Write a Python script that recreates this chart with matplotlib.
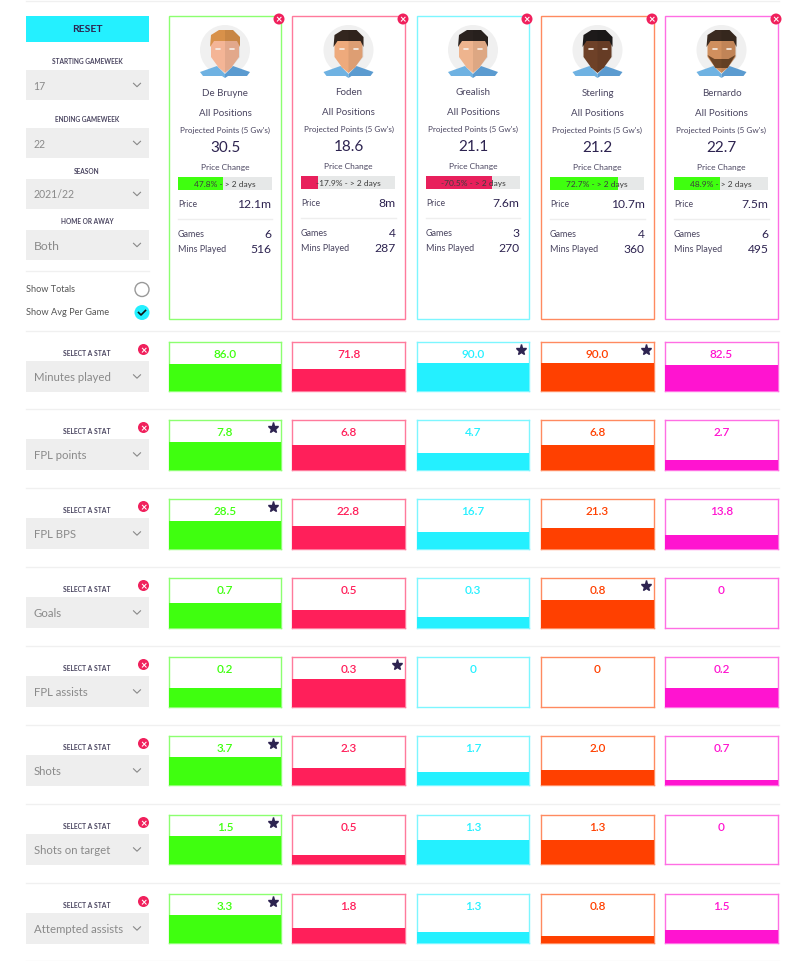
import matplotlib
matplotlib.use('Agg')
import matplotlib.pyplot as plt
from matplotlib.patches import Rectangle, Circle, Polygon

plt.rcParams['font.family'] = ['Lato', 'DejaVu Sans']

# player cards
players = ['De Bruyne', 'Foden', 'Grealish', 'Sterling', 'Bernardo']
projected = ['30.5', '18.6', '21.1', '21.2', '22.7']
price_change = [47.8, -17.9, -70.5, 72.7, 48.9]
prices = ['12.1m', '8m', '7.6m', '10.7m', '7.5m']
games = [6, 4, 3, 4, 6]
mins_played = [516, 287, 270, 360, 495]

# stat rows
stat_names = ['Minutes played', 'FPL points', 'FPL BPS', 'Goals', 'FPL assists',
              'Shots', 'Shots on target', 'Attempted assists']
minutes = [86.0, 71.8, 90.0, 90.0, 82.5]
fpl_points = [7.8, 6.8, 4.7, 6.8, 2.7]
fpl_bps = [28.5, 22.8, 16.7, 21.3, 13.8]
goals = [0.7, 0.5, 0.3, 0.8, 0]
fpl_assists = [0.2, 0.3, 0, 0, 0.2]
shots = [3.7, 2.3, 1.7, 2.0, 0.7]
shots_on_target = [1.5, 0.5, 1.3, 1.3, 0]
attempted_assists = [3.3, 1.8, 1.3, 0.8, 1.5]
stat_rows = [minutes, fpl_points, fpl_bps, goals, fpl_assists, shots,
             shots_on_target, attempted_assists]
stat_labels = [['86.0', '71.8', '90.0', '90.0', '82.5'],
               ['7.8', '6.8', '4.7', '6.8', '2.7'],
               ['28.5', '22.8', '16.7', '21.3', '13.8'],
               ['0.7', '0.5', '0.3', '0.8', '0'],
               ['0.2', '0.3', '0', '0', '0.2'],
               ['3.7', '2.3', '1.7', '2.0', '0.7'],
               ['1.5', '0.5', '1.3', '1.3', '0'],
               ['3.3', '1.8', '1.3', '0.8', '1.5']]

colors = ['#3fff0f', '#ff1f5a', '#24f0ff', '#ff4000', '#ff14d0']
edge_colors = ['#8cff70', '#ff7a9c', '#7df6ff', '#ff8a60', '#ff6ee4']
dark = '#2d2350'
soft = '#4a4560'
grey = '#8a8a8a'
box_grey = '#eeeeee'

W, H = 800, 962
card_left = [169, 292, 417, 541, 665]
card_right = [281, 405, 529, 654, 778]
row_top = [343, 421, 500, 579, 658, 737, 816, 895]
row_bottom = [392, 471, 550, 629, 708, 786, 865, 944]
separators = [2, 332, 410, 489, 568, 647, 726, 805, 884, 962]
filled_share = 0.57

hair = ['#d8914a', '#33261f', '#2b2320', '#1d1a1a', '#3a2a20']
skin = ['#f4b596', '#eeaa7c', '#eeb48e', '#6e4128', '#d08f5e']
beard = [None, None, None, None, '#6b4426']

fig = plt.figure(figsize=(W / 100, H / 100), dpi=100)
ax = fig.add_axes([0, 0, 1, 1])
ax.set_xlim(0, W)
ax.set_ylim(H, 0)
ax.axis('off')


def sub_axes(left, top, right, bottom):
    sub = fig.add_axes([left / W, 1 - bottom / H, (right - left) / W, (bottom - top) / H])
    sub.set_xticks([])
    sub.set_yticks([])
    return sub


def chevron(x, y):
    ax.plot([x - 3.5, x, x + 3.5], [y - 1.7, y + 1.7, y - 1.7], color='#888888', lw=0.8)


def dropdown(top, bottom, label, size):
    ax.add_patch(Rectangle((26, top), 123, bottom - top, color=box_grey, lw=0))
    ax.text(33.5, (top + bottom) / 2, label, fontsize=size, color=grey, va='center')
    chevron(137, (top + bottom) / 2)


def close_button(x, y):
    ax.add_patch(Circle((x, y), 5.5, color='#f0205c', lw=0, zorder=6))
    ax.text(x, y - 0.3, '×', color='white', fontsize=8, fontweight='bold',
            ha='center', va='center', zorder=7)


def portrait(i, mid):
    s = skin[i]
    ax.add_patch(Circle((mid, 51), 25, color='#f0f0f0', lw=0))
    # shirt
    ax.add_patch(Polygon([[mid - 25, 73], [mid - 8, 67], [mid, 75], [mid, 79], [mid - 3, 77],
                          [mid - 22, 77]], color='#6fb2e2', lw=0))
    ax.add_patch(Polygon([[mid + 25, 73], [mid + 8, 67], [mid, 75], [mid, 79], [mid + 3, 77],
                          [mid + 22, 77]], color='#5b9bd0', lw=0))
    # head and neck
    ax.add_patch(Polygon([[mid - 7, 60], [mid + 7, 60], [mid + 7, 68], [mid, 74], [mid - 7, 68]],
                         color=s, lw=0))
    face = [[mid - 14, 42], [mid + 14, 42], [mid + 14, 58], [mid + 6, 69], [mid - 6, 69], [mid - 14, 58]]
    ax.add_patch(Polygon(face, color=s, lw=0))
    if beard[i]:
        ax.add_patch(Polygon([[mid - 14, 56], [mid - 7, 60], [mid + 7, 60], [mid + 14, 56],
                              [mid + 6, 69], [mid - 6, 69]], color=beard[i], lw=0))
    # hair
    ax.add_patch(Polygon([[mid - 15, 48], [mid - 14, 36], [mid - 6, 31], [mid + 8, 31],
                          [mid + 15, 38], [mid + 15, 48], [mid + 12, 42], [mid - 11, 42]],
                         color=hair[i], lw=0))
    # shaded right half
    ax.add_patch(Polygon([[mid, 31], [mid + 8, 31], [mid + 15, 38], [mid + 15, 58], [mid + 6, 69],
                          [mid, 74]], color='black', alpha=0.07, lw=0))
    # eyes
    for dx in (-7, 7):
        ax.plot([mid + dx - 2, mid + dx + 2], [50, 50], color='#f7f0ea', lw=1.2, solid_capstyle='round')


for y in separators:
    ax.plot([26, 779], [y, y], color='#f0f0f0', lw=1)

# left controls
ax.add_patch(Rectangle((26, 17), 123, 26, color='#24f0ff', lw=0))
ax.text(87, 29.5, 'RESET', fontsize=7.5, fontweight='bold', color=dark, ha='center', va='center')
controls = [('STARTING GAMEWEEK', '17', 62, 71, 101),
            ('ENDING GAMEWEEK', '22', 120, 129, 159),
            ('SEASON', '2021/22', 171, 180, 210),
            ('HOME OR AWAY', 'Both', 222, 231, 261)]
for title, value, title_y, top, bottom in controls:
    ax.text(87, title_y, title, fontsize=4.7, fontweight='bold', color=soft,
            ha='center', va='center')
    dropdown(top, bottom, value, 8.7 if value == 'Both' else 7.6)

ax.plot([26, 149], [271.5, 271.5], color='#f0f0f0', lw=1)
ax.text(26, 290, 'Show Totals', fontsize=6.6, color='#555555', va='center')
ax.text(26, 312.5, 'Show Avg Per Game', fontsize=6.7, color='#555555', va='center')
ax.add_patch(Circle((142, 290.5), 7, fc='white', ec='#999999', lw=1))
ax.add_patch(Circle((142, 313.5), 7.5, color='#24f0ff', lw=0))
ax.plot([138.5, 141, 145.5], [313.5, 316, 311.5], color='#111111', lw=1.2)

# player cards
for i, name in enumerate(players):
    left, right = card_left[i], card_right[i]
    mid = (left + right) / 2
    off = -0.7 if i in (1, 2) else 0
    ax.add_patch(Rectangle((left, 17), right - left, 303, fc='white', ec=edge_colors[i], lw=1))
    close_button(right - 2, 20)
    portrait(i, mid)

    ax.text(mid, 93.5 + off, name, fontsize=7, color=soft, ha='center', va='center')
    ax.text(mid, 113 + off, 'All Positions', fontsize=7, color=soft, ha='center', va='center')
    ax.text(mid, 130 + off, "Projected Points (5 Gw's)", fontsize=5.9, color=soft,
            ha='center', va='center')
    ax.text(mid, 148 + off, projected[i], fontsize=11, color=dark, ha='center', va='center')
    ax.text(mid, 167.5 + off, 'Price Change', fontsize=6, color=soft, ha='center', va='center')

    # price change bar
    bar_ax = sub_axes(left + 9, 177.5 + off, left + 103, 190.5 + off)
    bar_ax.set_facecolor('#e6e8e8')
    for side in bar_ax.spines.values():
        side.set_visible(False)
    bar_ax.set_xlim(0, 100)
    bar_ax.set_ylim(0, 1)
    bar_ax.barh(0.5, abs(price_change[i]), height=1,
                color='#3fff0f' if price_change[i] > 0 else '#e8205c')
    bar_ax.text(50, 0.45, f'{price_change[i]}% - > 2 days', fontsize=6, color='#3d3d3d',
                ha='center', va='center')

    ax.text(left + 9, 204.5 + off, 'Price', fontsize=6.2, color=soft, va='center')
    ax.text(right - 9.5, 204.5 + off, prices[i], fontsize=8.7, color=dark, ha='right', va='center')
    ax.plot([left + 9, right - 9.5], [219.5 + off, 219.5 + off], color='#eeeeee', lw=1)
    ax.text(left + 9, 234.5 + off, 'Games', fontsize=6.5, color=soft, va='center')
    ax.text(right - 9.5, 234.5 + off, str(games[i]), fontsize=8.7, color=dark, ha='right', va='center')
    ax.text(left + 9, 249.5 + off, 'Mins Played', fontsize=6.5, color=soft, va='center')
    ax.text(right - 9.5, 249.5 + off, str(mins_played[i]), fontsize=8.7, color=dark, ha='right', va='center')

# stat rows
for r, values in enumerate(stat_rows):
    top, bottom = row_top[r], row_bottom[r]
    row_max = max(values)
    ax.text(87, top + 10.5, 'SELECT A STAT', fontsize=4.9, fontweight='bold', color=soft,
            ha='center', va='center')
    dropdown(top + 19, top + 50, stat_names[r], 8.2)
    close_button(143.5, top + 7.5)
    for i, value in enumerate(values):
        cell = sub_axes(card_left[i], top, card_right[i], bottom)
        cell.set_xlim(0, 1)
        cell.set_ylim(0, row_max / filled_share)
        cell.bar(0.5, value, width=1, color=colors[i], zorder=3, clip_on=False)
        for side in cell.spines.values():
            side.set_color(edge_colors[i])
            side.set_linewidth(1)
            side.set_zorder(1)
        cell.text(0.5, 0.775, stat_labels[r][i], transform=cell.transAxes, fontsize=8.5,
                  fontweight='semibold', color=colors[i], ha='center', va='center')
        if value == row_max:
            cell.plot(0.925, 0.84, marker='*', ms=8, color=dark, transform=cell.transAxes)

fig.savefig('out.png', dpi=100)
